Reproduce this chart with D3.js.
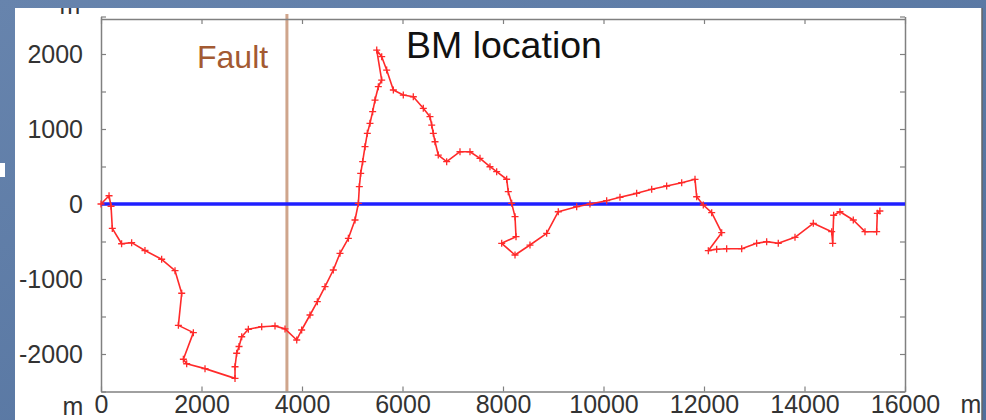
<!DOCTYPE html>
<html>
  <head>
    <title>BM location</title>
    <script src="https://cdn.jsdelivr.net/npm/d3@7"></script>
    <style>
      body { margin: 0; background: #5a7aa5; }
      svg { display: block; font-family: "Liberation Sans", Arial, sans-serif; }
    </style>
  </head>
  <body>
    <svg width="986" height="420" id="mainsvg"></svg>
    <script>

    // distance along the leveling route (m)
    const distance = [0, 160, 200, 225, 410, 610, 875, 1207, 1473, 1606, 1540, 1838, 1639, 1705, 2070, 2667,
      2667, 2700, 2747, 2800, 2932, 3198, 3463, 3662, 3895, 3993, 4159, 4305, 4458, 4623, 4756, 4923, 5055,
      5122, 5141, 5168, 5207, 5254, 5300, 5353, 5406, 5453, 5519, 5586, 5487, 5586, 5685, 5818, 6016, 6215,
      6414, 6547, 6581, 6613, 6647, 6712, 6879, 7144, 7343, 7542, 7741, 7874, 8073, 8105, 8173, 8239, 8259,
      7974, 8239, 8537, 8869, 9100, 9466, 9731, 10063, 10328, 10660, 10959, 11257, 11556, 11821, 11854,
      11986, 12153, 12352, 12086, 12252, 12451, 12750, 13048, 13247, 13478, 13811, 14175, 14541, 14561,
      14580, 14706, 14971, 15204, 15436, 15449, 15500];
    // BM offset (m)
    const offset = [0, 110, -30, -325, -530, -515, -620, -737, -889, -1190, -1618, -1715, -2070, -2130, -2195, -2325,
      -2170, -1990, -1900, -1770, -1670, -1636, -1627, -1665, -1813, -1680, -1480, -1302, -1102, -880, -658, -458, -213,
      9, 231, 409, 564, 764, 942, 1076, 1231, 1386, 1564, 1653, 2053, 1964, 1786, 1520, 1453, 1430,
      1276, 1164, 1053, 942, 830, 653, 564, 697, 697, 609, 497, 431, 330, 164, 9, -169, -436,
      -524, -680, -547, -391, -103, -36, 0, 44, 89, 142, 196, 240, 284, 329, 97,
      -13, -116, -382, -622, -604, -596, -596, -524, -502, -524, -444, -257, -369, -524,
      -150, -103, -213, -369, -369, -124, -93];

    const faultX = 3700;
    const xTicks = [0, 2000, 4000, 6000, 8000, 10000, 12000, 14000, 16000];
    const yTicks = [-2500, -2000, -1500, -1000, -500, 0, 500, 1000, 1500, 2000, 2500];
    const yLabels = [-2000, -1000, 0, 1000, 2000];

    let svg = d3.select('svg');
    const width = +svg.attr('width');
    const height = +svg.attr('height');

    // slide background
    const defs = svg.append('defs');
    const grad = defs.append('linearGradient').attr('id', 'bg').attr('x1', 0).attr('y1', 0).attr('x2', 1).attr('y2', 1);
    grad.append('stop').attr('offset', '0%').attr('stop-color', '#6784ad');
    grad.append('stop').attr('offset', '100%').attr('stop-color', '#4f6f9c');
    defs.append('clipPath').attr('id', 'panel')
      .append('rect').attr('x', 15).attr('y', 8).attr('width', 967).attr('height', 412);

    svg.append('rect').attr('width', width).attr('height', height).attr('fill', 'url(#bg)');
    svg.append('rect').attr('x', 15).attr('y', 8).attr('width', 967).attr('height', 412).attr('fill', '#fff');
    svg.append('line').attr('x1', 982).attr('x2', 982).attr('y1', 8).attr('y2', 420)
      .attr('stroke', '#666').attr('stroke-width', 1.5);
    svg.append('rect').attr('x', 0).attr('y', 163).attr('width', 5).attr('height', 14).attr('fill', '#fff');

    const x = d3.scaleLinear().domain([0, 16000]).range([101, 905]);
    const y = d3.scaleLinear().domain([-2500, 2500]).range([391.5, 16.5]);

    const g = svg.append('g').attr('clip-path', 'url(#panel)');

    // fault line
    g.append('line')
      .attr('x1', x(faultX)).attr('x2', x(faultX))
      .attr('y1', 14).attr('y2', y(-2500))
      .attr('stroke', '#cfa58c').attr('stroke-width', 3);

    // axes, ticks pointing inward
    const axisStyle = sel => {
      sel.select('.domain').attr('stroke', '#808080').attr('stroke-width', 1.5);
      sel.selectAll('.tick line').attr('stroke', '#808080').attr('stroke-width', 1.2);
      sel.selectAll('text').attr('fill', '#333').attr('font-size', 25).attr('font-family', '"Liberation Sans", Arial, sans-serif');
    };
    g.append('g').attr('transform', `translate(0,${y(-2500)})`)
      .call(d3.axisBottom(x).tickValues(xTicks).tickSizeInner(-5).tickSizeOuter(0).tickPadding(4).tickFormat(d => String(d)))
      .call(axisStyle);
    g.append('g').attr('transform', 'translate(0,19)')
      .call(d3.axisTop(x).tickValues(xTicks).tickSizeInner(-5).tickSizeOuter(0).tickFormat(''))
      .call(axisStyle);
    g.append('g').attr('transform', `translate(${x(0)},0)`)
      .call(d3.axisLeft(y).tickValues(yTicks).tickSizeInner(-5).tickSizeOuter(0).tickPadding(18)
        .tickFormat(d => yLabels.includes(d) ? String(d) : ''))
      .call(axisStyle);
    g.append('g').attr('transform', `translate(${x(16000)},0)`)
      .call(d3.axisRight(y).tickValues(yTicks).tickSizeInner(-5).tickSizeOuter(0).tickFormat(''))
      .call(axisStyle);

    // unit labels
    const unit = (ux, uy) => g.append('text').attr('x', ux).attr('y', uy)
      .attr('text-anchor', 'middle').attr('font-size', 25).attr('fill', '#333').text('m');
    unit(70, 14);
    unit(73, 415);
    unit(971, 413);

    // zero line
    g.append('line')
      .attr('x1', x(0)).attr('x2', x(16000))
      .attr('y1', y(0)).attr('y2', y(0))
      .attr('stroke', '#1f1fff').attr('stroke-width', 3.5);

    // BM offsets
    const pts = distance.map((d, i) => [d, offset[i]]);
    const line = d3.line().x(d => x(d[0])).y(d => y(d[1]));
    g.append('path').datum(pts)
      .attr('d', line)
      .attr('fill', 'none').attr('stroke', '#ff2a2a').attr('stroke-width', 1.6).attr('stroke-linejoin', 'round');
    g.selectAll('.mark').data(pts).enter().append('path')
      .attr('class', 'mark')
      .attr('transform', d => `translate(${x(d[0])},${y(d[1])})`)
      .attr('d', 'M-3.5,0H3.5M0,-3.5V3.5')
      .attr('stroke', '#ff2a2a').attr('stroke-width', 1.3);

    // labels
    g.append('text').attr('x', 197).attr('y', 68)
      .attr('font-size', 32).attr('fill', '#a35a32').text('Fault');
    g.append('text').attr('x', 406).attr('y', 58)
      .attr('font-size', 37.5).attr('fill', '#111').text('BM location');

  </script>
  </body>
</html>
